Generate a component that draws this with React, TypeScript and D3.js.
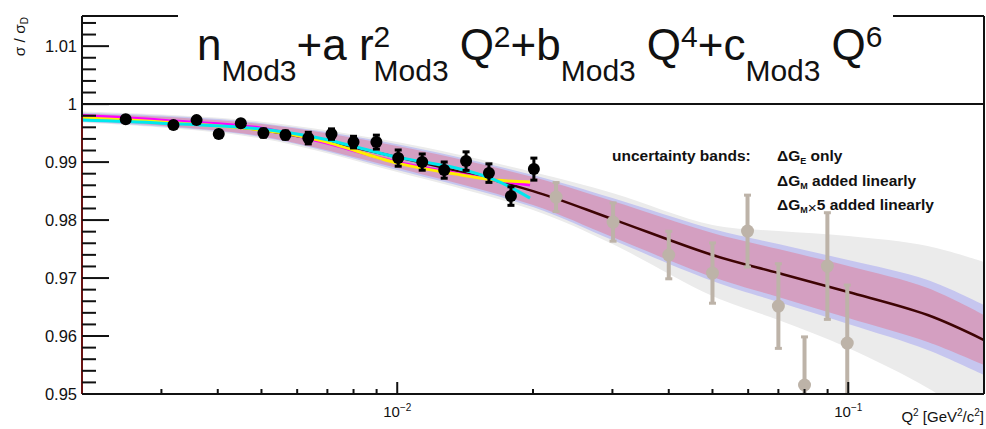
import React, { useEffect, useRef } from 'react';
import * as d3 from 'd3';

// ---- data ----
// measured points inside the fit range (black)
const blackQ2 = [0.0025, 0.00319, 0.00359, 0.00402, 0.0045, 0.00505, 0.00565, 0.00635, 0.00715, 0.0080, 0.00899, 0.01005, 0.01136, 0.01271, 0.01421, 0.01597, 0.01787, 0.02009];
const blackRatio = [0.99741, 0.99638, 0.99724, 0.99483, 0.99672, 0.995, 0.99466, 0.99414, 0.99483, 0.99345, 0.99345, 0.99069, 0.99, 0.98862, 0.99017, 0.9881, 0.98414, 0.98879];
const blackErr = [0.0005, 0.0005, 0.0005, 0.0005, 0.0005, 0.0007, 0.0007, 0.001, 0.0009, 0.001, 0.0012, 0.0014, 0.0014, 0.0014, 0.0016, 0.0016, 0.0016, 0.0019];

// points outside the fit range (grey)
const grayQ2 = [0.0225, 0.0301, 0.04, 0.05, 0.0598, 0.07, 0.08, 0.0899, 0.0995];
const grayRatio = [0.98397, 0.97966, 0.97397, 0.97086, 0.9781, 0.96517, 0.95155, 0.97207, 0.95879];
const grayErr = [0.0025, 0.0033, 0.0041, 0.0052, 0.0062, 0.0073, 0.0083, 0.0092, 0.01];

// central curve + uncertainty bands
const bandQ2 = [0.002, 0.003, 0.005, 0.01, 0.02, 0.03, 0.05, 0.07, 0.1, 0.15, 0.2];
const fitCentral = [0.99776, 0.99707, 0.99552, 0.99086, 0.985, 0.98017, 0.97397, 0.97086, 0.96759, 0.96362, 0.95931];
const geUp = [0.99836, 0.99784, 0.99655, 0.99276, 0.98741, 0.98328, 0.97776, 0.975, 0.97207, 0.96828, 0.96362];
const geLo = [0.99716, 0.99629, 0.99448, 0.98897, 0.98259, 0.97707, 0.97017, 0.96672, 0.9631, 0.95897, 0.955];
const gmUp = [0.99853, 0.99802, 0.99672, 0.9931, 0.98776, 0.98379, 0.97845, 0.97586, 0.9731, 0.96966, 0.96534];
const gmLo = [0.99698, 0.99612, 0.99431, 0.98862, 0.98224, 0.97655, 0.96948, 0.96586, 0.96207, 0.95759, 0.95328];
const gm5Up = [0.99871, 0.99819, 0.99698, 0.99345, 0.98828, 0.98466, 0.97914, 0.9781, 0.97724, 0.97552, 0.97276];
const gm5Lo = [0.99681, 0.99595, 0.99405, 0.98828, 0.98172, 0.97586, 0.9669, 0.96276, 0.95793, 0.95103, 0.94466];

// polynomial fits to the black points
const lineQ2 = [0.002, 0.003, 0.005, 0.0067, 0.01, 0.0135, 0.0165, 0.0197];
const fitMagenta = [0.99802, 0.99724, 0.99586, 0.99362, 0.99, 0.9881, 0.9869, 0.98603];
const fitYellow = [0.99759, 0.9969, 0.99552, 0.99379, 0.98983, 0.98793, 0.9869, 0.98655];
const fitCyan = [0.99724, 0.99672, 0.99569, 0.99414, 0.99086, 0.98897, 0.9869, 0.98379];

const yMajor = [0.95, 0.96, 0.97, 0.98, 0.99, 1, 1.01];
const yLabels = ['0.95', '0.96', '0.97', '0.98', '0.99', '1', '1.01'];
const xMajor = [0.01, 0.1];
const xLabelExp = ['-2', '-1'];
const xMinor = [0.003, 0.004, 0.005, 0.006, 0.007, 0.008, 0.009, 0.02, 0.03, 0.04, 0.05, 0.06, 0.07, 0.08, 0.09];

const legendLines = [
  { sub: 'E', rest: ' only', mult: '' },
  { sub: 'M', rest: ' added linearly', mult: '' },
  { sub: 'M', rest: '5 added linearly', mult: '×' },
];

const W = 986;
const H = 429;
const FONT = '"Liberation Sans", Arial, Helvetica, sans-serif';

function draw(svgEl: SVGSVGElement) {
  const svg = d3.select(svgEl);
  svg.selectAll('*').remove();

  const left = 82, right = 984, top = 16, bottom = 394;
  const x = d3.scaleLog().domain([0.002, 0.2]).range([left, right]);
  const y = d3.scaleLinear().domain([0.95, 1.0152]).range([bottom, top]);
  const smooth = d3.curveCatmullRom.alpha(0.5);

  svg.append('rect').attr('width', W).attr('height', H).attr('fill', '#fff');

  svg.append('clipPath').attr('id', 'plotclip')
    .append('rect').attr('x', left).attr('y', top).attr('width', right - left).attr('height', bottom - top);
  const plot = svg.append('g').attr('clip-path', 'url(#plotclip)');

  const idx = d3.range(bandQ2.length);
  const band = (up: number[], lo: number[]) => d3.area<number>()
    .x(i => x(bandQ2[i]))
    .y0(i => y(lo[i]))
    .y1(i => y(up[i]))
    .curve(smooth)(idx);

  plot.append('path').attr('d', band(gm5Up, gm5Lo)).attr('fill', '#ebebeb');
  plot.append('path').attr('d', band(gmUp, gmLo)).attr('fill', '#c6c6ef');
  plot.append('path').attr('d', band(geUp, geLo)).attr('fill', '#d49fc1');

  const central = d3.line<number>()
    .x(i => x(bandQ2[i]))
    .y(i => y(fitCentral[i]))
    .curve(smooth);
  plot.append('path').attr('d', central(idx)).attr('fill', 'none')
    .attr('stroke', '#3e0404').attr('stroke-width', 2.5);

  // left edge below the curve is drawn in the curve colour
  svg.append('line')
    .attr('x1', left).attr('x2', left)
    .attr('y1', y(fitCentral[0])).attr('y2', bottom)
    .attr('stroke', '#6a1212').attr('stroke-width', 2);

  const lidx = d3.range(lineQ2.length);
  const fitLine = (vals: number[]) => d3.line<number>()
    .x(i => x(lineQ2[i]))
    .y(i => y(vals[i]))
    .curve(smooth)(lidx);
  [[fitMagenta, '#ff00ff'], [fitYellow, '#ffee00'], [fitCyan, '#00e8ee']].forEach(([vals, col]) => {
    plot.append('path').attr('d', fitLine(vals as number[])).attr('fill', 'none')
      .attr('stroke', col as string).attr('stroke-width', 3);
  });

  const drawPoints = (qs: number[], vs: number[], es: number[], col: string, bw: number, r: number) => {
    const g = plot.append('g');
    qs.forEach((q, i) => {
      const px = x(q);
      const y1 = y(vs[i] + es[i]);
      const y2 = y(vs[i] - es[i]);
      g.append('line').attr('x1', px).attr('x2', px).attr('y1', y1).attr('y2', y2)
        .attr('stroke', col).attr('stroke-width', bw);
      [y1, y2].forEach(yy => {
        g.append('line').attr('x1', px - 3.5).attr('x2', px + 3.5).attr('y1', yy).attr('y2', yy)
          .attr('stroke', col).attr('stroke-width', 3);
      });
      g.append('circle').attr('cx', px).attr('cy', y(vs[i])).attr('r', r).attr('fill', col);
    });
  };
  drawPoints(blackQ2, blackRatio, blackErr, '#000', 3, 6);
  drawPoints(grayQ2, grayRatio, grayErr, '#bdb3a8', 4, 6.5);

  // title box (hides the upper frame)
  svg.append('rect').attr('x', 178).attr('y', 0).attr('width', 715).attr('height', y(1))
    .attr('fill', '#fff');

  // frame
  const axisCol = '#111';
  svg.append('line').attr('x1', left).attr('x2', 178).attr('y1', top).attr('y2', top)
    .attr('stroke', axisCol).attr('stroke-width', 2);
  svg.append('line').attr('x1', 893).attr('x2', right).attr('y1', top).attr('y2', top)
    .attr('stroke', axisCol).attr('stroke-width', 2);
  svg.append('line').attr('x1', right).attr('x2', right).attr('y1', top).attr('y2', bottom)
    .attr('stroke', axisCol).attr('stroke-width', 2);
  svg.append('line').attr('x1', left).attr('x2', left).attr('y1', top).attr('y2', y(fitCentral[0]))
    .attr('stroke', axisCol).attr('stroke-width', 2);
  svg.append('line').attr('x1', left).attr('x2', right).attr('y1', bottom).attr('y2', bottom)
    .attr('stroke', axisCol).attr('stroke-width', 2);
  svg.append('line').attr('x1', left).attr('x2', right).attr('y1', y(1)).attr('y2', y(1))
    .attr('stroke', axisCol).attr('stroke-width', 2);

  // y ticks
  const yMinor = d3.range(0.952, 1.0151, 0.002).filter(v => !yMajor.some(m => Math.abs(m - v) < 1e-6));
  yMinor.forEach(v => {
    svg.append('line').attr('x1', left).attr('x2', left + 14).attr('y1', y(v)).attr('y2', y(v))
      .attr('stroke', axisCol).attr('stroke-width', 2);
  });
  yMajor.forEach((v, i) => {
    svg.append('line').attr('x1', left).attr('x2', left + 27).attr('y1', y(v)).attr('y2', y(v))
      .attr('stroke', axisCol).attr('stroke-width', 2);
    svg.append('text').attr('x', 77).attr('y', y(v)).attr('dy', '0.36em')
      .attr('text-anchor', 'end').attr('font-family', FONT).attr('font-size', 16.5).attr('fill', '#111')
      .text(yLabels[i]);
  });

  // x ticks
  xMinor.forEach(q => {
    svg.append('line').attr('x1', x(q)).attr('x2', x(q)).attr('y1', bottom).attr('y2', bottom - 5)
      .attr('stroke', axisCol).attr('stroke-width', 2);
  });
  xMajor.forEach((q, i) => {
    svg.append('line').attr('x1', x(q)).attr('x2', x(q)).attr('y1', bottom).attr('y2', bottom - 12)
      .attr('stroke', axisCol).attr('stroke-width', 2);
    const t = svg.append('text').attr('x', x(q)).attr('y', 417).attr('text-anchor', 'middle')
      .attr('font-family', FONT).attr('font-size', 15).attr('fill', '#111');
    t.append('tspan').text('10');
    t.append('tspan').attr('dy', -6).attr('font-size', 10).text(xLabelExp[i].replace('-', '−'));
  });

  // x title
  const xt = svg.append('text').attr('x', right).attr('y', 422).attr('text-anchor', 'end')
    .attr('font-family', FONT).attr('font-size', 15).attr('fill', '#111');
  xt.append('tspan').text('Q');
  xt.append('tspan').attr('dy', -6).attr('font-size', 10).text('2');
  xt.append('tspan').attr('dy', 6).text(' [GeV');
  xt.append('tspan').attr('dy', -6).attr('font-size', 10).text('2');
  xt.append('tspan').attr('dy', 6).text('/c');
  xt.append('tspan').attr('dy', -6).attr('font-size', 10).text('2');
  xt.append('tspan').attr('dy', 6).text(']');

  // y title
  const yt = svg.append('text').attr('transform', 'translate(25,17) rotate(-90)')
    .attr('text-anchor', 'end').attr('font-family', FONT).attr('font-size', 15.5).attr('fill', '#111');
  yt.append('tspan').text('σ / σ');
  yt.append('tspan').attr('dy', 3).attr('font-size', 10).text('D');

  // title formula, laid out run by run
  const mainSize = 44, smallSize = 30;
  const baseY = 60, subY = 81, supY = 47;
  const runs: { t: string; k: 'm' | 'sub' | 'sup'; gap?: number; stack?: boolean }[] = [
    { t: 'n', k: 'm' }, { t: 'Mod3', k: 'sub' },
    { t: '+a r', k: 'm' }, { t: '2', k: 'sup', stack: true }, { t: 'Mod3', k: 'sub' },
    { t: 'Q', k: 'm', gap: 11 }, { t: '2', k: 'sup' },
    { t: '+b', k: 'm' }, { t: 'Mod3', k: 'sub' },
    { t: 'Q', k: 'm', gap: 11 }, { t: '4', k: 'sup' },
    { t: '+c', k: 'm' }, { t: 'Mod3', k: 'sub' },
    { t: 'Q', k: 'm', gap: 11 }, { t: '6', k: 'sup' },
  ];
  let cx = 197;
  let stackX = 0, stackW = 0;
  runs.forEach(r => {
    cx += r.gap || 0;
    const isStackSub = stackW > 0 && r.k === 'sub';
    const px = isStackSub ? stackX : cx;
    const el = svg.append('text').attr('x', px)
      .attr('y', r.k === 'm' ? baseY : r.k === 'sub' ? subY : supY)
      .attr('font-family', FONT).attr('font-size', r.k === 'm' ? mainSize : smallSize)
      .attr('fill', '#111').text(r.t);
    const w = (el.node() as SVGTextElement).getComputedTextLength();
    if (r.stack) { stackX = cx; stackW = w; return; }
    if (isStackSub) { cx = stackX + Math.max(w, stackW); stackW = 0; return; }
    cx += w;
  });

  // legend
  svg.append('text').attr('x', 612).attr('y', 161).attr('font-family', FONT)
    .attr('font-size', 15.5).attr('font-weight', 'bold').attr('fill', '#111').text('uncertainty bands:');
  legendLines.forEach((l, i) => {
    const t = svg.append('text').attr('x', 777).attr('y', 161 + i * 24.5).attr('font-family', FONT)
      .attr('font-size', 15.5).attr('font-weight', 'bold').attr('fill', '#111');
    t.append('tspan').text('ΔG');
    t.append('tspan').attr('dy', 3).attr('font-size', 9).text(l.sub);
    if (l.mult) t.append('tspan').attr('font-weight', 'normal').text(l.mult);
    t.append('tspan').attr('dy', -3).text(l.rest);
  });
}

export default function App() {
  const ref = useRef<SVGSVGElement>(null);
  useEffect(() => {
    if (ref.current) draw(ref.current);
  }, []);
  return (
    <svg ref={ref} width={W} height={H}
      style={{ position: 'absolute', left: 0, top: 0, display: 'block' }} />
  );
}
